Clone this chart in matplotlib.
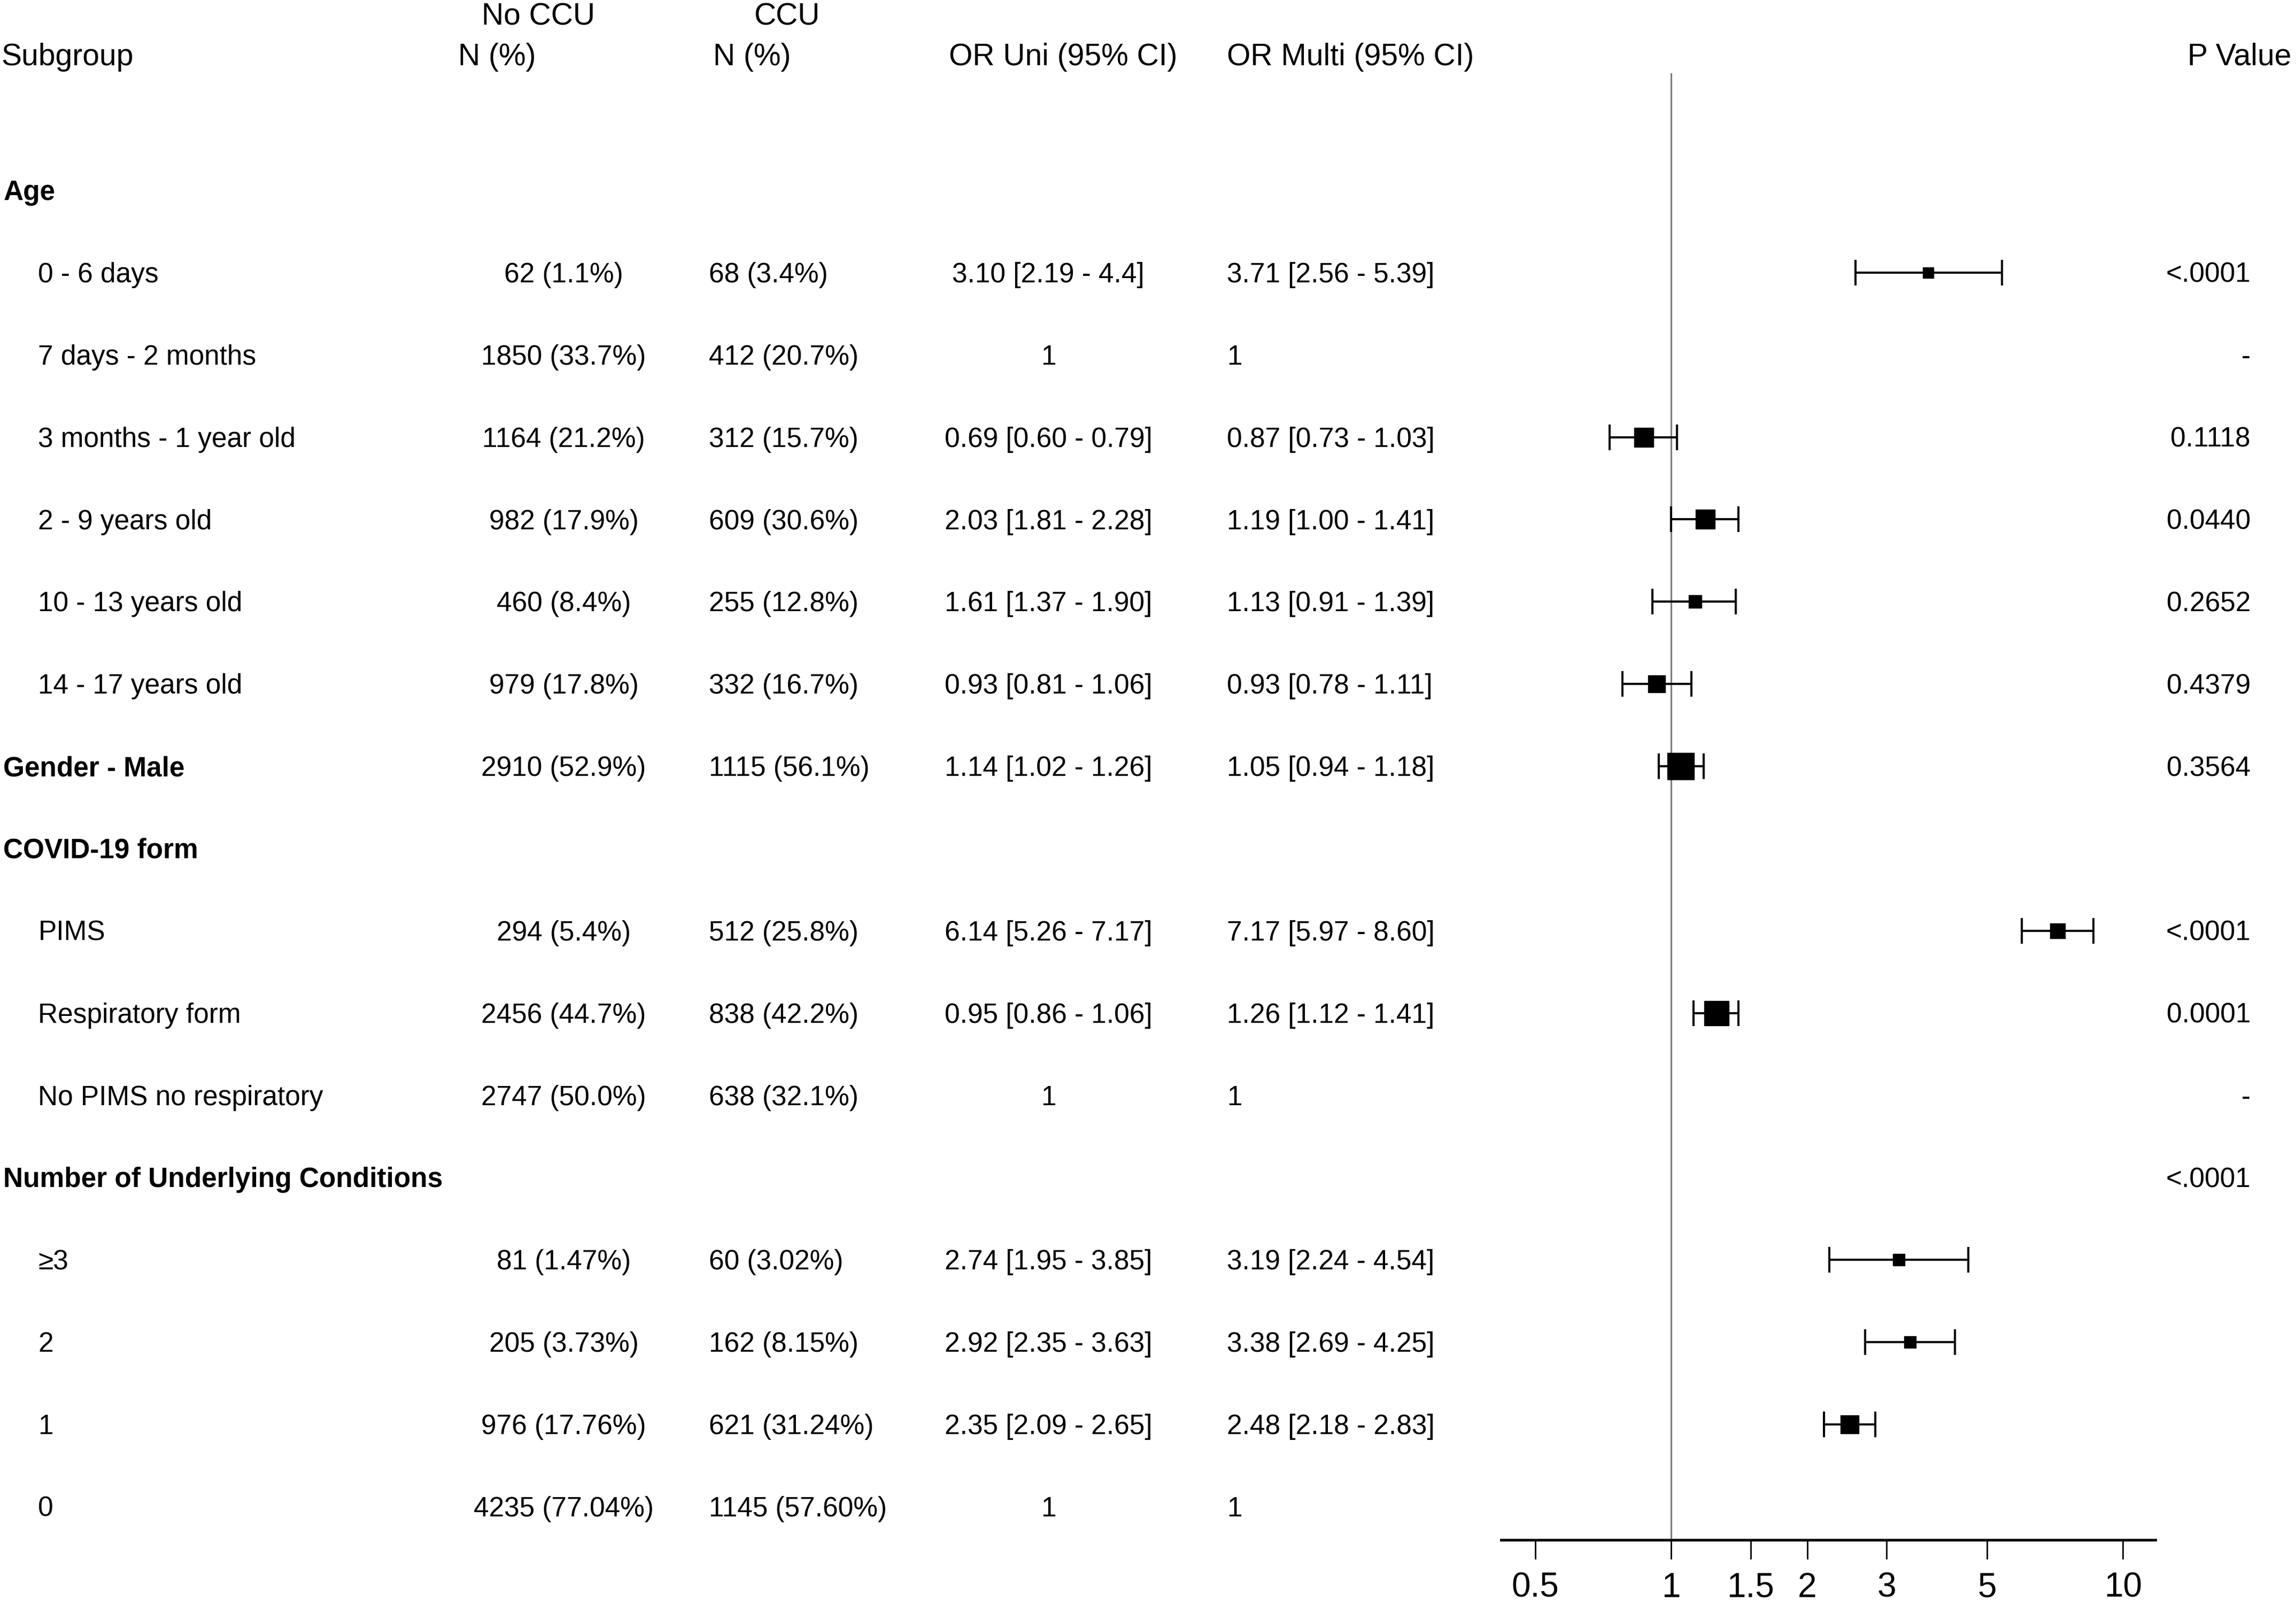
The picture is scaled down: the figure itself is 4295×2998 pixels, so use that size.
import matplotlib
matplotlib.use('Agg')
import matplotlib.pyplot as plt
import matplotlib.transforms as mtransforms

plt.rcParams['font.family'] = ['Liberation Sans', 'DejaVu Sans']

# table data, one entry per row (top to bottom)
subgroups = ['Age', '0 - 6 days', '7 days - 2 months', '3 months - 1 year old',
             '2 - 9 years old', '10 - 13 years old', '14 - 17 years old',
             'Gender - Male', 'COVID-19 form', 'PIMS', 'Respiratory form',
             'No PIMS no respiratory', 'Number of Underlying Conditions',
             '≥3', '2', '1', '0']
is_header = [True, False, False, False, False, False, False, True, True,
             False, False, False, True, False, False, False, False]
no_ccu = ['', '62 (1.1%)', '1850 (33.7%)', '1164 (21.2%)', '982 (17.9%)',
          '460 (8.4%)', '979 (17.8%)', '2910 (52.9%)', '', '294 (5.4%)',
          '2456 (44.7%)', '2747 (50.0%)', '', '81 (1.47%)', '205 (3.73%)',
          '976 (17.76%)', '4235 (77.04%)']
ccu = ['', '68 (3.4%)', '412 (20.7%)', '312 (15.7%)', '609 (30.6%)',
       '255 (12.8%)', '332 (16.7%)', '1115 (56.1%)', '', '512 (25.8%)',
       '838 (42.2%)', '638 (32.1%)', '', '60 (3.02%)', '162 (8.15%)',
       '621 (31.24%)', '1145 (57.60%)']
or_uni = ['', '3.10 [2.19 - 4.4]', '1', '0.69 [0.60 - 0.79]', '2.03 [1.81 - 2.28]',
          '1.61 [1.37 - 1.90]', '0.93 [0.81 - 1.06]', '1.14 [1.02 - 1.26]', '',
          '6.14 [5.26 - 7.17]', '0.95 [0.86 - 1.06]', '1', '',
          '2.74 [1.95 - 3.85]', '2.92 [2.35 - 3.63]', '2.35 [2.09 - 2.65]', '1']
or_multi = ['', '3.71 [2.56 - 5.39]', '1', '0.87 [0.73 - 1.03]', '1.19 [1.00 - 1.41]',
            '1.13 [0.91 - 1.39]', '0.93 [0.78 - 1.11]', '1.05 [0.94 - 1.18]', '',
            '7.17 [5.97 - 8.60]', '1.26 [1.12 - 1.41]', '1', '',
            '3.19 [2.24 - 4.54]', '3.38 [2.69 - 4.25]', '2.48 [2.18 - 2.83]', '1']
p_values = ['', '<.0001', '-', '0.1118', '0.0440', '0.2652', '0.4379', '0.3564', '',
            '<.0001', '0.0001', '-', '<.0001', '', '', '', '']

# forest plot points (multivariable OR)
plot_rows = [1, 3, 4, 5, 6, 7, 9, 10, 13, 14, 15]
or_est = [3.71, 0.87, 1.19, 1.13, 0.93, 1.05, 7.17, 1.26, 3.19, 3.38, 2.48]
or_lo = [2.56, 0.73, 1.00, 0.91, 0.78, 0.94, 5.97, 1.12, 2.24, 2.69, 2.18]
or_hi = [5.39, 1.03, 1.41, 1.39, 1.11, 1.18, 8.60, 1.41, 4.54, 4.25, 2.83]
box_size = [15, 26, 26, 17, 23, 36, 20, 33, 16, 16, 25]

x_ticks = [0.5, 1, 1.5, 2, 3, 5, 10]
x_tick_labels = ['0.5', '1', '1.5', '2', '3', '5', '10']

fig = plt.figure(figsize=(42.95, 29.98), dpi=100)
ax = fig.add_axes([0.6537, 0.0393, 0.2851, 0.915])
ax.set_xscale('log')
ax.set_xlim(0.42, 11.8)
ax.set_ylim(16.406, -1.4235)

ax.axvline(1, color='#7f7f7f', lw=2.3, zorder=1)
for r, est, lo, hi, ms in zip(plot_rows, or_est, or_lo, or_hi, box_size):
    ax.errorbar(est, r, xerr=[[est - lo], [hi - est]], fmt='s', color='black',
                ms=ms, elinewidth=2.9, capsize=17.5, capthick=2.9, zorder=3)

for side in ['top', 'right', 'left']:
    ax.spines[side].set_visible(False)
ax.spines['bottom'].set_linewidth(3.6)
ax.set_yticks([])
ax.set_xticks(x_ticks)
ax.set_xticklabels(x_tick_labels)
ax.minorticks_off()
ax.tick_params(axis='x', length=26, width=2, pad=17, labelsize=46)

trans = mtransforms.blended_transform_factory(fig.transFigure, ax.transData)
fs = 37
hfs = 41
dy = 0.03

# column headers
ax.text(0.0005, -1.62, 'Subgroup', transform=trans, fontsize=hfs, va='center')
ax.text(0.2098, -2.11, 'No CCU', transform=trans, fontsize=hfs, va='center')
ax.text(0.1996, -1.62, 'N (%)', transform=trans, fontsize=hfs, va='center')
ax.text(0.3284, -2.11, 'CCU', transform=trans, fontsize=hfs, va='center')
ax.text(0.3106, -1.62, 'N (%)', transform=trans, fontsize=hfs, va='center')
ax.text(0.4133, -1.62, 'OR Uni (95% CI)', transform=trans, fontsize=hfs, va='center')
ax.text(0.5344, -1.62, 'OR Multi (95% CI)', transform=trans, fontsize=hfs, va='center')
ax.text(0.9528, -1.62, 'P Value', transform=trans, fontsize=hfs, va='center')

for i, name in enumerate(subgroups):
    y = i + dy
    if is_header[i]:
        ax.text(0.0015, y, name, transform=trans, fontsize=fs, va='center',
                fontweight='bold')
    else:
        ax.text(0.0166, y, name, transform=trans, fontsize=fs, va='center')
    ax.text(0.2455, y, no_ccu[i], transform=trans, fontsize=fs, va='center', ha='center')
    ax.text(0.3087, y, ccu[i], transform=trans, fontsize=fs, va='center')
    ax.text(0.4566, y, or_uni[i], transform=trans, fontsize=fs, va='center', ha='center')
    ax.text(0.5344, y, or_multi[i], transform=trans, fontsize=fs, va='center')
    ax.text(0.9802, y, p_values[i], transform=trans, fontsize=fs, va='center', ha='right')

fig.savefig('out.png', dpi=100, facecolor='white')
